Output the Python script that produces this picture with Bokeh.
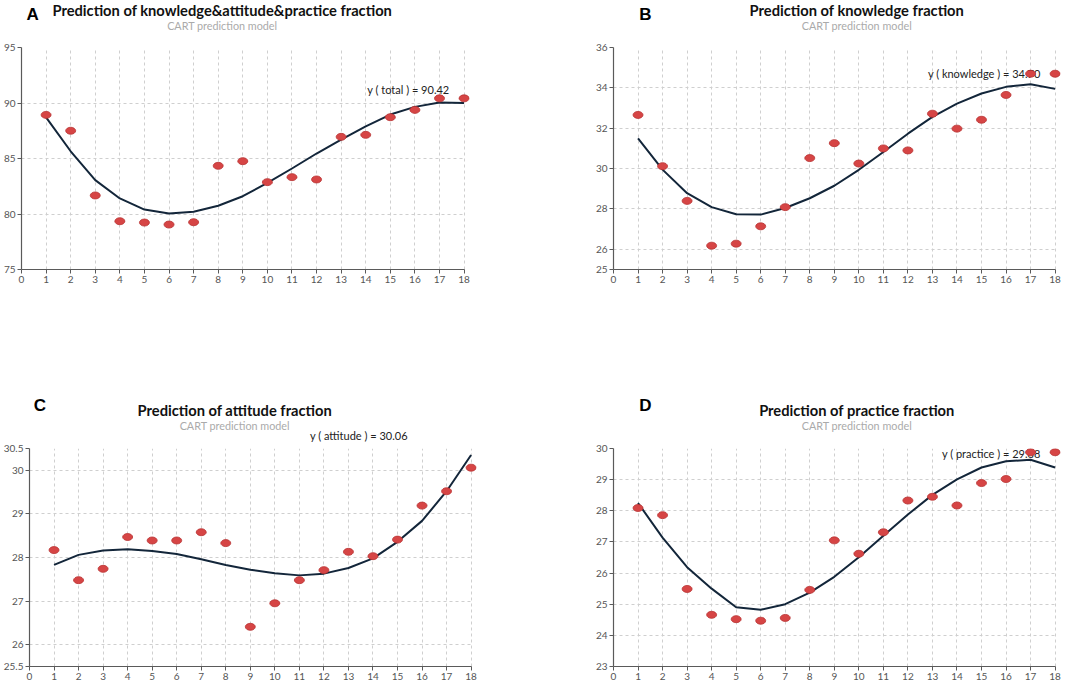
from bokeh.plotting import figure
from bokeh.models import Range1d, FixedTicker, Label
from bokeh.layouts import column, row
from bokeh.embed import file_html
from bokeh.resources import INLINE

# ---------------- data ----------------
x_vals = list(range(1, 19))
x_ticks = list(range(0, 19))

total_points = [88.93, 87.50, 81.67, 79.35, 79.23, 79.05, 79.26, 84.34, 84.76,
                82.87, 83.32, 83.11, 86.95, 87.13, 88.72, 89.38, 90.42, 90.42]
total_curve = [88.70, 85.65, 83.05, 81.40, 80.40, 80.05, 80.20, 80.74, 81.60,
               82.80, 84.10, 85.45, 86.70, 87.90, 88.96, 89.65, 90.05, 90.00]
total_ticks = [75, 80, 85, 90, 95]

knowledge_points = [32.66, 30.12, 28.40, 26.18, 26.28, 27.14, 28.09, 30.52, 31.26,
                    30.25, 31.00, 30.90, 32.72, 31.98, 32.42, 33.65, 34.70, 34.70]
knowledge_curve = [31.50, 29.95, 28.78, 28.09, 27.74, 27.72, 28.05, 28.53, 29.15,
                   29.94, 30.82, 31.73, 32.56, 33.22, 33.72, 34.05, 34.18, 33.95]
knowledge_ticks = [25, 26, 28, 30, 32, 34, 36]

attitude_points = [28.17, 27.48, 27.74, 28.47, 28.39, 28.39, 28.58, 28.33, 26.41,
                   26.95, 27.48, 27.71, 28.13, 28.03, 28.41, 29.19, 29.52, 30.06]
attitude_curve = [27.83, 28.06, 28.16, 28.19, 28.15, 28.08, 27.96, 27.83, 27.72,
                  27.64, 27.59, 27.63, 27.76, 27.98, 28.36, 28.84, 29.52, 30.35]
attitude_ticks = [25.5, 26, 27, 28, 29, 30, 30.5]

practice_points = [28.09, 27.86, 25.49, 24.66, 24.52, 24.47, 24.56, 25.46, 27.05,
                   26.62, 27.31, 28.33, 28.45, 28.17, 28.89, 29.02, 29.88, 29.88]
practice_curve = [28.25, 27.14, 26.19, 25.50, 24.90, 24.82, 25.00, 25.37, 25.88,
                  26.51, 27.20, 27.88, 28.51, 29.01, 29.39, 29.59, 29.64, 29.39]
practice_ticks = [23, 24, 25, 26, 27, 28, 29, 30]

titles = ["Prediction of knowledge&attitude&practice fraction",
          "Prediction of knowledge fraction",
          "Prediction of attitude fraction",
          "Prediction of practice fraction"]
subtitle = "CART prediction model"
letters = ["A", "B", "C", "D"]
ann_texts = ["y ( total ) = 90.42", "y ( knowledge ) = 34.70",
             "y ( attitude ) = 30.06", "y ( practice ) = 29.88"]
ann_values = [90.42, 34.70, 30.06, 29.88]

FONT = "Lato"
X_END = 18.22   # small room so the last dots are not cut by the frame


def plot_panel(width, height, borders, ticks, points, curve):
    left, right, top, bottom = borders
    p = figure(width=width, height=height, output_backend="svg",
               toolbar_location=None, tools="",
               x_range=Range1d(0, X_END), y_range=Range1d(ticks[0], ticks[-1]),
               min_border_left=left, min_border_right=right,
               min_border_top=top, min_border_bottom=bottom)
    p.outline_line_color = None
    p.background_fill_color = "white"
    p.border_fill_color = "white"

    for ax in (p.xaxis, p.yaxis):
        ax.axis_line_color = "#5a5a5a"
        ax.axis_line_width = 1.2
        ax.major_tick_line_color = "#5a5a5a"
        ax.major_tick_in = 0
        ax.major_tick_out = 4
        ax.minor_tick_line_color = None
        ax.major_label_text_font = FONT
        ax.major_label_text_font_size = "10px"
        ax.major_label_text_color = "#555555"
        ax.major_label_standoff = 2
    p.xaxis.ticker = FixedTicker(ticks=x_ticks)
    p.xaxis.bounds = (0, 18)
    p.yaxis.ticker = FixedTicker(ticks=ticks)

    p.xgrid.ticker = FixedTicker(ticks=x_ticks)
    p.ygrid.ticker = FixedTicker(ticks=ticks)
    try:
        p.ygrid.cross_bounds = (0, 18)
    except AttributeError:
        pass
    for g in (p.xgrid, p.ygrid):
        g.grid_line_color = "#cfcfcf"
        g.grid_line_dash = "3 3"
        g.grid_line_width = 1

    p.line(x_vals, curve, line_color="#13263a", line_width=2)
    p.ellipse(x_vals, points, width=10, height=7, width_units="screen",
              height_units="screen", fill_color="#d64545",
              line_color="#b83232", line_width=0.8)
    return p


def annotation(p, text, value, dy):
    p.add_layout(Label(x=17, y=value, x_offset=10, y_offset=dy, text=text,
                       text_align="right", text_baseline="middle",
                       text_font=FONT, text_font_size="11px",
                       text_color="#222222", level="underlay"))


def header(width, height, title, letter, title_pos, sub_y, letter_pos):
    h = figure(width=width, height=height, output_backend="svg",
               toolbar_location=None, tools="",
               x_range=Range1d(0, width), y_range=Range1d(height, 0),
               min_border_left=0, min_border_right=0,
               min_border_top=0, min_border_bottom=0)
    h.axis.visible = False
    h.grid.visible = False
    h.outline_line_color = None
    h.background_fill_color = "white"
    h.border_fill_color = "white"
    h.add_layout(Label(x=title_pos[0], y=title_pos[1], text=title,
                       text_align="center", text_baseline="middle",
                       text_font=FONT, text_font_style="bold",
                       text_font_size="14.7px", text_color="#111111"))
    h.add_layout(Label(x=title_pos[0], y=sub_y, text=subtitle,
                       text_align="center", text_baseline="middle",
                       text_font=FONT, text_font_size="10.8px",
                       text_color="#aaaaaa"))
    h.add_layout(Label(x=letter_pos[0], y=letter_pos[1], text=letter,
                       text_align="left", text_baseline="middle",
                       text_font="Liberation Sans", text_font_style="bold",
                       text_font_size="17px", text_color="#000000"))
    return h


# ---- panel A ----
hA = header(540, 41, titles[0], letters[0], (242, 9), 25, (6, 14))
pA = plot_panel(540, 299, (20, 71, 6, 71), total_ticks, total_points, total_curve)
annotation(pA, ann_texts[0], ann_values[0], 9)

# ---- panel B ----
hB = header(540, 41, titles[1], letters[1], (294, 9), 25, (31, 14))
pB = plot_panel(540, 299, (73, 20, 6, 71), knowledge_ticks, knowledge_points,
                knowledge_curve)
annotation(pB, ann_texts[1], ann_values[1], 0)

# ---- panel C ----
hC = header(540, 102, titles[2], letters[2], (248, 69), 85, (5, 65))
hC.add_layout(Label(x=457, y=95, text=ann_texts[2], text_align="right",
                    text_baseline="middle", text_font=FONT,
                    text_font_size="11px", text_color="#222222"))
pC = plot_panel(540, 240, (26, 64, 6, 15), attitude_ticks, attitude_points,
                attitude_curve)

# ---- panel D ----
hD = header(540, 102, titles[3], letters[3], (294, 69), 85, (31, 65))
pD = plot_panel(540, 240, (73, 20, 6, 15), practice_ticks, practice_points,
                practice_curve)
annotation(pD, ann_texts[3], ann_values[3], -1)

layout = column(row(column(hA, pA), column(hB, pB)),
                row(column(hC, pC), column(hD, pD)))

open("out.html", "w").write(file_html(layout, INLINE))
